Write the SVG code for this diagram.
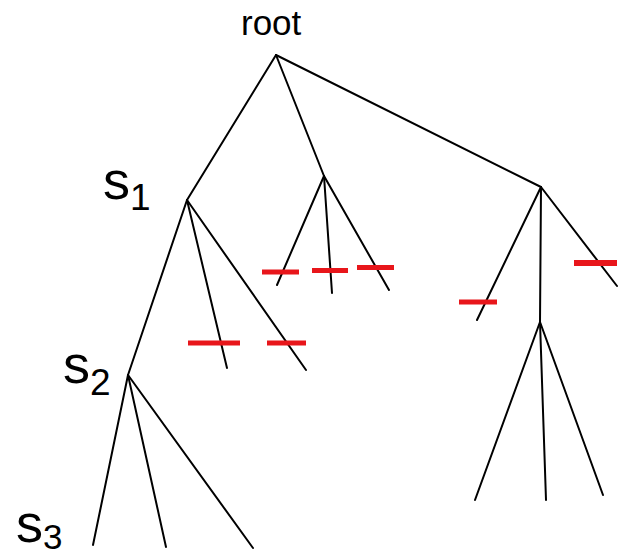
<svg xmlns="http://www.w3.org/2000/svg" width="625" height="557" viewBox="0 0 625 557">
<style>
.e{stroke:#000;stroke-width:2;fill:none;stroke-linecap:round}
.cut{stroke:#e8161b;stroke-width:5;fill:none}
.t{font-family:"Liberation Sans",Arial,sans-serif;fill:#000}
</style>
<rect width="625" height="557" fill="#fff"/>
<g id="connectors">
<line class="e" x1="276" y1="55" x2="187" y2="200"/>
<line class="e" x1="276" y1="55" x2="324" y2="176"/>
<line class="e" x1="276" y1="55" x2="541" y2="187"/>
<line class="e" x1="187" y1="200" x2="128" y2="375"/>
<line class="e" x1="187" y1="200" x2="227" y2="368"/>
<line class="e" x1="187" y1="200" x2="306" y2="370"/>
<line class="e" x1="324" y1="176" x2="277" y2="285"/>
<line class="e" x1="324" y1="176" x2="332" y2="293"/>
<line class="e" x1="324" y1="176" x2="389" y2="290"/>
<line class="e" x1="541" y1="187" x2="477" y2="320"/>
<line class="e" x1="541" y1="187" x2="540" y2="322"/>
<line class="e" x1="541" y1="187" x2="617" y2="286"/>
<line class="e" x1="540" y1="322" x2="475" y2="500"/>
<line class="e" x1="540" y1="322" x2="546" y2="500"/>
<line class="e" x1="540" y1="322" x2="603" y2="495"/>
<line class="e" x1="128" y1="375" x2="93" y2="545"/>
<line class="e" x1="128" y1="375" x2="166" y2="547"/>
<line class="e" x1="128" y1="375" x2="253" y2="548"/>
</g>
<g id="cuts">
<line class="cut" x1="188" y1="343" x2="240" y2="343"/>
<line class="cut" x1="267" y1="343" x2="306" y2="343"/>
<line class="cut" x1="262" y1="272" x2="299" y2="272"/>
<line class="cut" x1="312" y1="270.5" x2="348" y2="270.5"/>
<line class="cut" x1="357" y1="267.5" x2="394" y2="267.5"/>
<line class="cut" x1="459" y1="302" x2="497" y2="302"/>
<line class="cut" x1="574" y1="263" x2="617" y2="263" style="stroke-width:6"/>
</g>
<g id="root"><text class="t" x="241" y="35" font-size="35">root</text></g>
<g id="s1"><text class="t" x="103" y="199" font-size="54">s<tspan font-size="37" dy="11">1</tspan></text></g>
<g id="s2"><text class="t" x="63" y="383" font-size="54">s<tspan font-size="37" dy="12">2</tspan></text></g>
<g id="s3"><text class="t" x="16" y="542" font-size="54">s<tspan font-size="35" dy="7">3</tspan></text></g>
</svg>
